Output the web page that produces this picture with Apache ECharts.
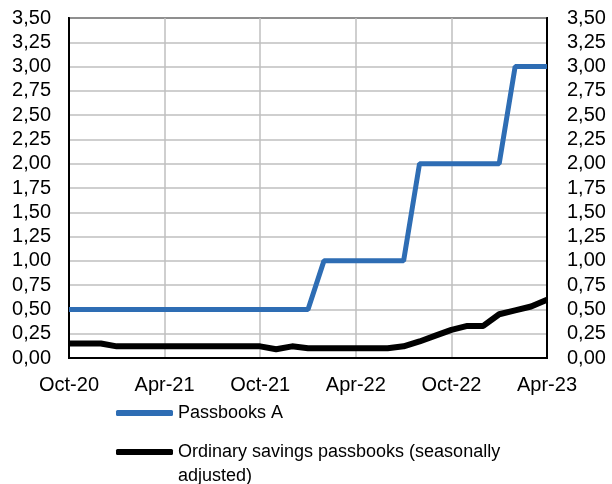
<!DOCTYPE html>
<html>
<head>
<meta charset="utf-8">
<script src="https://cdn.jsdelivr.net/npm/echarts@6/dist/echarts.min.js"></script>
<style>
  html, body { margin: 0; padding: 0; background: #fff; }
  #chart { width: 612px; height: 484px; }
</style>
</head>
<body>
<div id="chart"></div>
<script>
const months = [
    'Oct-20', 'Nov-20', 'Dec-20', 'Jan-21', 'Feb-21', 'Mar-21', 'Apr-21', 'May-21',
    'Jun-21', 'Jul-21', 'Aug-21', 'Sep-21', 'Oct-21', 'Nov-21', 'Dec-21', 'Jan-22',
    'Feb-22', 'Mar-22', 'Apr-22', 'May-22', 'Jun-22', 'Jul-22', 'Aug-22', 'Sep-22',
    'Oct-22', 'Nov-22', 'Dec-22', 'Jan-23', 'Feb-23', 'Mar-23', 'Apr-23'
];

const passbooksA = [
    0.5, 0.5, 0.5, 0.5, 0.5, 0.5, 0.5, 0.5,
    0.5, 0.5, 0.5, 0.5, 0.5, 0.5, 0.5, 0.5,
    1.0, 1.0, 1.0, 1.0, 1.0, 1.0, 2.0, 2.0,
    2.0, 2.0, 2.0, 2.0, 3.0, 3.0, 3.0
];

const ordinarySavings = [
    0.15, 0.15, 0.15, 0.12, 0.12, 0.12, 0.12, 0.12,
    0.12, 0.12, 0.12, 0.12, 0.12, 0.09, 0.12, 0.10,
    0.10, 0.10, 0.10, 0.10, 0.10, 0.12, 0.17, 0.23,
    0.29, 0.33, 0.33, 0.45, 0.49, 0.53, 0.60
];

const seriesNames = ['Passbooks A', 'Ordinary savings passbooks (seasonally adjusted)'];

const font = 'Liberation Sans, Arial, sans-serif';
const fmt = v => v.toFixed(2).replace('.', ',');

const chart = echarts.init(document.getElementById('chart'));

const yAxisBase = {
    type: 'value',
    min: 0,
    max: 3.5,
    interval: 0.25,
    axisLine: { show: true, lineStyle: { color: '#000', width: 2 } },
    axisTick: { show: false },
    axisLabel: { color: '#000', fontSize: 20, fontFamily: font, formatter: fmt }
};

chart.setOption({
    animation: false,
    grid: {
        left: 69, right: 65, top: 18, bottom: 126,
        show: true, borderColor: '#000', borderWidth: 2
    },
    legend: [
        {
            data: [seriesNames[0]],
            left: 116, top: 402,
            padding: 0,
            icon: 'roundRect',
            itemWidth: 57, itemHeight: 6,
            textStyle: { fontSize: 18, fontFamily: font, color: '#000', lineHeight: 22 }
        },
        {
            data: [seriesNames[1]],
            left: 116, top: 416,
            padding: 0,
            icon: 'roundRect',
            itemWidth: 57, itemHeight: 6,
            formatter: () => ' \nOrdinary savings passbooks (seasonally\nadjusted)',
            textStyle: { fontSize: 18, fontFamily: font, color: '#000', lineHeight: 24 }
        }
    ],
    xAxis: {
        type: 'category',
        data: months,
        boundaryGap: false,
        axisLine: { lineStyle: { color: '#000', width: 2 } },
        axisTick: { show: false },
        axisLabel: { interval: 5, color: '#000', fontSize: 20, fontFamily: font, margin: 17 },
        splitLine: { show: true, interval: 5, lineStyle: { color: '#BFBFBF', width: 1.5 } }
    },
    yAxis: [
        Object.assign({}, yAxisBase, {
            position: 'left',
            axisLabel: Object.assign({}, yAxisBase.axisLabel, { margin: 18 }),
            splitLine: { show: true, lineStyle: { color: '#BFBFBF', width: 1.5 } }
        }),
        Object.assign({}, yAxisBase, {
            position: 'right',
            axisLabel: Object.assign({}, yAxisBase.axisLabel, { margin: 20 }),
            splitLine: { show: false }
        })
    ],
    series: [
        {
            name: seriesNames[0],
            type: 'line',
            data: passbooksA,
            symbol: 'none',
            color: '#2E6DB4',
            lineStyle: { width: 5, color: '#2E6DB4' },
            z: 3
        },
        {
            name: seriesNames[1],
            type: 'line',
            data: ordinarySavings,
            symbol: 'none',
            color: '#000',
            lineStyle: { width: 6, color: '#000' },
            z: 4
        }
    ]
});
</script>
</body>
</html>
